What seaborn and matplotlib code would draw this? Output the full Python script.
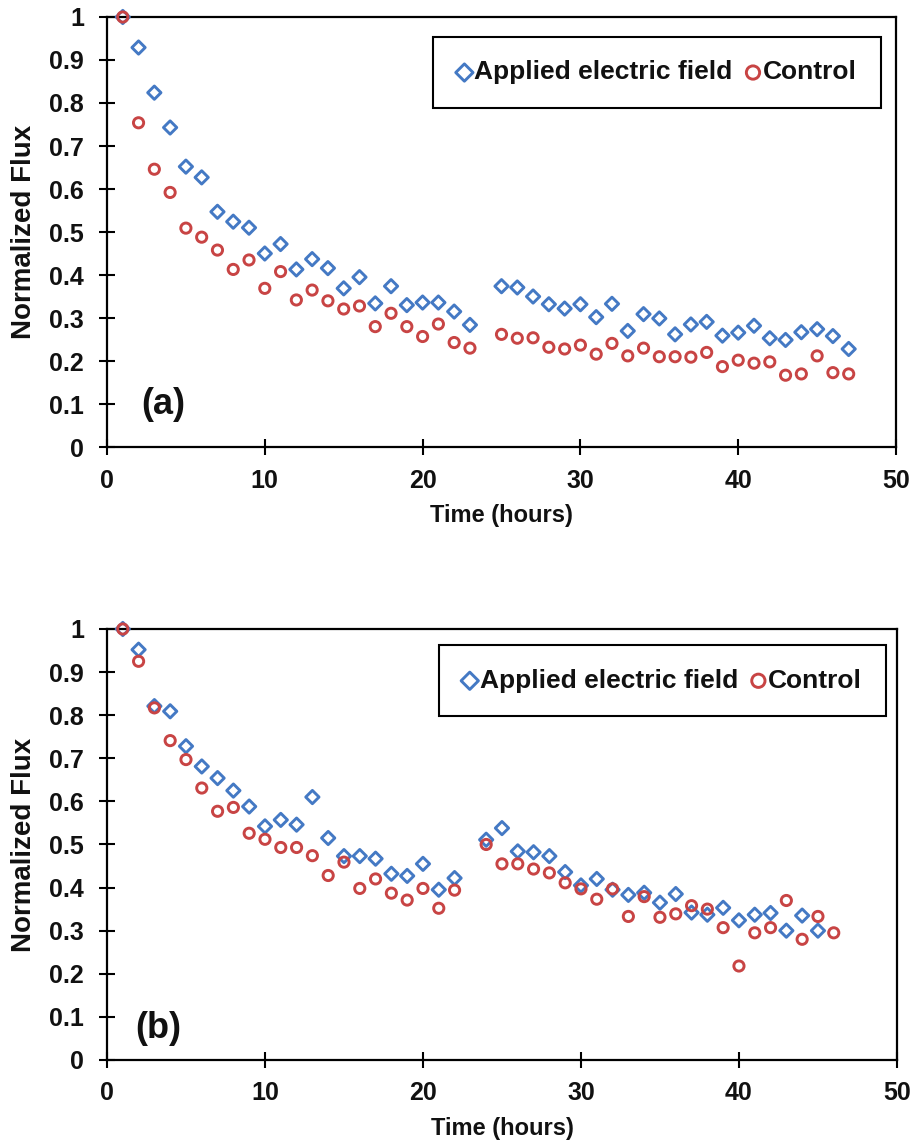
import matplotlib
matplotlib.use("Agg")
import matplotlib.pyplot as plt
import seaborn as sns
import pandas as pd

# ---------------- data ----------------
time_a_applied = [1, 2, 3, 4, 5, 6, 7, 8, 9, 10, 11, 12, 13, 14, 15, 16, 17, 18, 19, 20, 21, 22, 23,
                  25, 26, 27, 28, 29, 30, 31, 32, 33, 34, 35, 36, 37, 38, 39, 40, 41, 42, 43, 44, 45, 46, 47]
flux_a_applied = [1.0, 0.929, 0.824, 0.743, 0.652, 0.627, 0.547, 0.524, 0.51, 0.45, 0.472, 0.413, 0.437,
                  0.416, 0.369, 0.395, 0.334, 0.374, 0.33, 0.336, 0.336, 0.315, 0.284,
                  0.374, 0.371, 0.35, 0.332, 0.322, 0.332, 0.302, 0.333, 0.27, 0.309, 0.299, 0.262,
                  0.285, 0.291, 0.259, 0.266, 0.282, 0.253, 0.249, 0.267, 0.274, 0.258, 0.228]
time_a_control = [1, 2, 3, 4, 5, 6, 7, 8, 9, 10, 11, 12, 13, 14, 15, 16, 17, 18, 19, 20, 21, 22, 23,
                  25, 26, 27, 28, 29, 30, 31, 32, 33, 34, 35, 36, 37, 38, 39, 40, 41, 42, 43, 44, 45, 46, 47]
flux_a_control = [1.0, 0.754, 0.646, 0.592, 0.509, 0.488, 0.458, 0.413, 0.435, 0.369, 0.408, 0.342, 0.365,
                  0.34, 0.321, 0.328, 0.28, 0.311, 0.28, 0.257, 0.286, 0.243, 0.23,
                  0.262, 0.253, 0.254, 0.232, 0.228, 0.237, 0.216, 0.241, 0.212, 0.23, 0.21, 0.21,
                  0.209, 0.22, 0.187, 0.202, 0.195, 0.198, 0.167, 0.17, 0.212, 0.173, 0.17]

time_b_applied = [1, 2, 3, 4, 5, 6, 7, 8, 9, 10, 11, 12, 13, 14, 15, 16, 17, 18, 19, 20, 21, 22,
                  24, 25, 26, 27, 28, 29, 30, 31, 32, 33, 34, 35, 36, 37, 38, 39, 40, 41, 42, 43, 44, 45]
flux_b_applied = [1.0, 0.952, 0.821, 0.809, 0.728, 0.681, 0.654, 0.625, 0.588, 0.542, 0.557, 0.546, 0.61,
                  0.515, 0.473, 0.473, 0.467, 0.432, 0.427, 0.455, 0.395, 0.422,
                  0.511, 0.538, 0.484, 0.482, 0.473, 0.436, 0.405, 0.42, 0.395, 0.383, 0.388, 0.365,
                  0.385, 0.342, 0.337, 0.353, 0.324, 0.337, 0.341, 0.3, 0.335, 0.3]
time_b_control = [1, 2, 3, 4, 5, 6, 7, 8, 9, 10, 11, 12, 13, 14, 15, 16, 17, 18, 19, 20, 21, 22,
                  24, 25, 26, 27, 28, 29, 30, 31, 32, 33, 34, 35, 36, 37, 38, 39, 40, 41, 42, 43, 44, 45, 46]
flux_b_control = [1.0, 0.925, 0.817, 0.741, 0.697, 0.631, 0.577, 0.586, 0.526, 0.512, 0.493, 0.493, 0.474,
                  0.428, 0.459, 0.398, 0.42, 0.387, 0.371, 0.398, 0.352, 0.394,
                  0.5, 0.455, 0.455, 0.443, 0.434, 0.411, 0.397, 0.373, 0.397, 0.333, 0.379, 0.331,
                  0.339, 0.358, 0.35, 0.307, 0.218, 0.295, 0.307, 0.37, 0.28, 0.333, 0.295]

series_labels = ["Applied electric field", "Control"]
panel_labels = ["(a)", "(b)"]
x_ticks = [0, 10, 20, 30, 40, 50]
y_ticks = [0, 0.1, 0.2, 0.3, 0.4, 0.5, 0.6, 0.7, 0.8, 0.9, 1.0]
y_tick_labels = ["0", "0.1", "0.2", "0.3", "0.4", "0.5", "0.6", "0.7", "0.8", "0.9", "1"]
x_label = "Time (hours)"
y_label = "Normalized Flux"

# ---------------- style ----------------
sns.set_style("ticks")
plt.rcParams["font.family"] = ["Liberation Sans", "DejaVu Sans"]
plt.rcParams["font.weight"] = "bold"
plt.rcParams["axes.labelweight"] = "bold"

BLUE = "#4479C4"
RED = "#C84444"

fig = plt.figure(figsize=(9.16, 11.48), dpi=100)
ax_a = fig.add_axes([0.1168, 0.6106, 0.8614, 0.3746])
ax_b = fig.add_axes([0.1168, 0.0767, 0.8624, 0.3754])


def draw_panel(ax, t_app, f_app, t_ctl, f_ctl, label, label_xy, leg_xy):
    df_app = pd.DataFrame({"t": t_app, "f": f_app})
    df_ctl = pd.DataFrame({"t": t_ctl, "f": f_ctl})
    sns.scatterplot(data=df_app, x="t", y="f", ax=ax, marker="D", s=46,
                    color=BLUE, facecolors="none", edgecolor=BLUE, linewidth=2.1,
                    label=series_labels[0], zorder=3, clip_on=False)
    sns.scatterplot(data=df_ctl, x="t", y="f", ax=ax, marker="o", s=54,
                    color=RED, facecolors="none", edgecolor=RED, linewidth=2.1,
                    label=series_labels[1], zorder=4, clip_on=False)
    ax.set_xlim(0, 50)
    ax.set_ylim(0, 1)
    ax.set_xticks(x_ticks)
    ax.set_xticklabels([str(v) for v in x_ticks])
    ax.set_yticks(y_ticks)
    ax.set_yticklabels(y_tick_labels)
    ax.tick_params(axis="both", direction="inout", length=11, width=1.5,
                   color="black", labelsize=18, labelcolor="#111111")
    ax.tick_params(axis="y", pad=11)
    ax.tick_params(axis="x", pad=10)
    for lab in ax.get_xticklabels() + ax.get_yticklabels():
        lab.set_fontweight("bold")
    for sp in ax.spines.values():
        sp.set_visible(True)
        sp.set_color("black")
        sp.set_linewidth(1.6)
    ax.set_xlabel(x_label, fontsize=17, fontweight="bold", labelpad=8, color="#111111")
    ax.set_ylabel(y_label, fontsize=20, fontweight="bold", labelpad=9, color="#111111")
    ax.text(label_xy[0], label_xy[1], label, transform=ax.transAxes, fontsize=26,
            fontweight="bold", ha="center", va="center", color="#111111")
    leg = ax.legend(loc="center", bbox_to_anchor=leg_xy, ncol=2,
                    fontsize=19, frameon=True, fancybox=False, framealpha=1,
                    edgecolor="black", borderpad=0.9, handletextpad=0.1,
                    handlelength=0.55, columnspacing=0.5, markerscale=1.3,
                    borderaxespad=0)
    leg.get_frame().set_linewidth(1.5)
    for txt in leg.get_texts():
        txt.set_fontweight("bold")
        txt.set_color("#111111")


draw_panel(ax_a, time_a_applied, flux_a_applied, time_a_control, flux_a_control,
           panel_labels[0], (0.071, 0.098), (0.697, 0.871))
draw_panel(ax_b, time_b_applied, flux_b_applied, time_b_control, flux_b_control,
           panel_labels[1], (0.065, 0.074), (0.703, 0.880))

fig.savefig("out.png", dpi=100, facecolor="white")
